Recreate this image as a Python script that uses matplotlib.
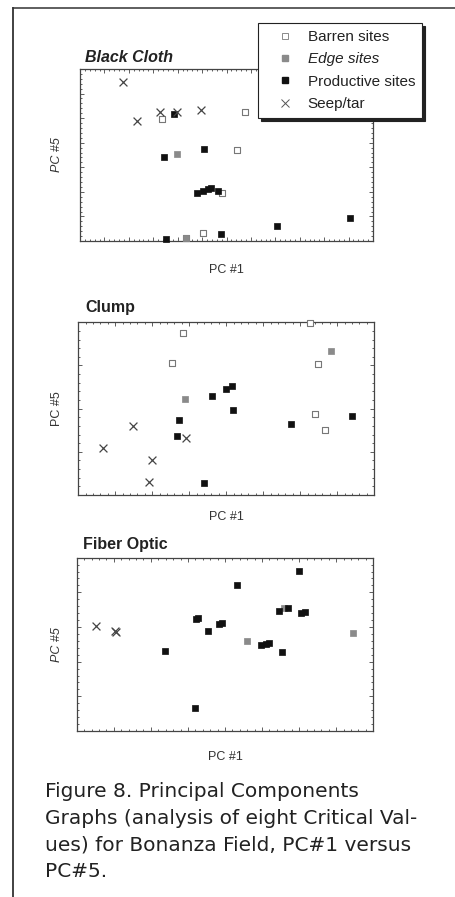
import numpy as np
import matplotlib
matplotlib.use("Agg")
import matplotlib.pyplot as plt
from matplotlib.lines import Line2D
from matplotlib.ticker import MultipleLocator

plt.rcParams['font.family'] = ['Liberation Sans', 'DejaVu Sans']

# PC#1 / PC#5 scores, one list per site class and field
# Black Cloth
bc_barren = [(-1.33, 0.48), (0.38, 0.62), (0.21, -0.15), (-0.10, -1.02), (-0.82, -1.93), (-0.49, -1.84)]
bc_edge = [(-1.01, -0.23), (-0.82, -1.93)]
bc_productive = [(-1.07, 0.58), (-1.27, -0.30), (-0.46, -0.12), (-0.61, -1.02), (-0.48, -0.98),
                 (-0.37, -0.94), (-0.32, -0.93), (-0.17, -0.98), (-1.24, -1.96), (-0.11, -1.86),
                 (1.03, -1.69), (2.53, -1.53)]
bc_seep = [(-2.11, 1.24), (-1.84, 0.45), (-1.36, 0.62), (-1.02, 0.63), (-0.53, 0.67)]

# Clump
cl_barren = [(-1.16, 1.75), (2.26, 1.98), (-1.47, 1.05), (2.47, 1.03), (2.41, -0.13), (2.67, -0.49)]
cl_edge = [(2.83, 1.34), (-1.12, 0.22)]
cl_productive = [(0.16, 0.53), (-0.02, 0.45), (-0.39, 0.29), (0.18, -0.02), (-1.27, -0.26),
                 (3.40, -0.17), (1.76, -0.35), (-1.33, -0.63), (-0.61, -1.72)]
cl_seep = [(-2.51, -0.41), (-1.09, -0.67), (-3.34, -0.90), (-2.00, -1.18), (-2.08, -1.69)]

# Fiber Optic
fo_barren = []
fo_edge = [(0.60, -0.39), (1.59, 0.56), (3.46, -0.16)]
fo_productive = [(-1.63, -0.70), (-0.78, 0.22), (-0.72, 0.25), (-0.45, -0.12), (-0.16, 0.09),
                 (-0.07, 0.12), (0.33, 1.21), (0.98, -0.53), (1.11, -0.48), (1.19, -0.47),
                 (1.46, 0.46), (1.70, 0.54), (1.53, -0.71), (1.99, 1.62), (2.06, 0.40),
                 (2.16, 0.43), (-0.80, -2.35)]
fo_seep = [(-3.49, 0.03), (-2.97, -0.11), (-2.93, -0.15)]

site_labels = ["Barren sites", "Edge sites", "Productive sites", "Seep/tar"]
caption = ("Figure 8. Principal Components\n"
           "Graphs (analysis of eight Critical Val-\n"
           "ues) for Bonanza Field, PC#1 versus\n"
           "PC#5.")

# marker styles per class
styles = [
    dict(marker='s', s=20, facecolors='white', edgecolors='#777777', linewidths=0.8),
    dict(marker='s', s=18, facecolors='#8a8a8a', edgecolors='#8a8a8a', linewidths=0.5),
    dict(marker='s', s=20, facecolors='#111111', edgecolors='#111111', linewidths=0.5),
    dict(marker='x', s=32, c='#444444', linewidths=0.9),
]

W, H = 456, 897
fig = plt.figure(figsize=(W / 100, H / 100), dpi=100)
fig.patch.set_facecolor('white')

panels = [
    dict(title="Black Cloth", title_style='italic', ylab_style='italic',
         rect=(80, 69, 293, 172), title_xy=(85, 57), xlab_y=270,
         xlim=(-3, 3), ylim=(-2, 1.5), xmaj=0.5, xmin=0.1, ymaj=0.5, ymin=0.1,
         data=[bc_barren, bc_edge, bc_productive, bc_seep]),
    dict(title="Clump", title_style='normal', ylab_style='normal',
         rect=(78.3, 322.3, 296, 172.7), title_xy=(85, 307), xlab_y=517,
         xlim=(-4, 4), ylim=(-2, 2), xmaj=1, xmin=0.2, ymaj=1, ymin=0.2,
         data=[cl_barren, cl_edge, cl_productive, cl_seep]),
    dict(title="Fiber Optic", title_style='normal', ylab_style='italic',
         rect=(76.7, 557.7, 296.6, 173.3), title_xy=(83, 545), xlab_y=757,
         xlim=(-4, 4), ylim=(-3, 2), xmaj=1, xmin=0.2, ymaj=1, ymin=0.2,
         data=[fo_barren, fo_edge, fo_productive, fo_seep]),
]

for p in panels:
    x0, y0, w, h = p['rect']
    ax = fig.add_axes([x0 / W, 1 - (y0 + h) / H, w / W, h / H])
    for pts, st in zip(p['data'], styles):
        if len(pts) == 0:
            continue
        arr = np.array(pts)
        ax.scatter(arr[:, 0], arr[:, 1], clip_on=False, zorder=3, **st)
    ax.set_xlim(*p['xlim'])
    ax.set_ylim(*p['ylim'])
    ax.xaxis.set_major_locator(MultipleLocator(p['xmaj']))
    ax.xaxis.set_minor_locator(MultipleLocator(p['xmin']))
    ax.yaxis.set_major_locator(MultipleLocator(p['ymaj']))
    ax.yaxis.set_minor_locator(MultipleLocator(p['ymin']))
    ax.tick_params(which='both', direction='in', top=True, right=True,
                   labelbottom=False, labelleft=False, color='#444444', width=0.6)
    ax.tick_params(which='major', length=3)
    ax.tick_params(which='minor', length=1.6)
    for sp in ax.spines.values():
        sp.set_color('#444444')
        sp.set_linewidth(0.9)

    tx, ty = p['title_xy']
    fig.text(tx / W, 1 - ty / H, p['title'], fontsize=11.5, fontweight='bold',
             fontstyle=p['title_style'], color='#222222', ha='left', va='center')
    fig.text((x0 + w / 2) / W, 1 - p['xlab_y'] / H, "PC #1", fontsize=9,
             color='#333333', ha='center', va='center')
    fig.text(57 / W, 1 - (y0 + h / 2) / H, "PC #5", fontsize=9, rotation=90,
             fontstyle=p['ylab_style'], color='#333333', ha='center', va='center')

# legend
handles = [
    Line2D([], [], linestyle='none', marker='s', markersize=4, markerfacecolor='white',
           markeredgecolor='#777777', markeredgewidth=0.6),
    Line2D([], [], linestyle='none', marker='s', markersize=4, markerfacecolor='#8a8a8a',
           markeredgecolor='#8a8a8a'),
    Line2D([], [], linestyle='none', marker='s', markersize=4, markerfacecolor='#111111',
           markeredgecolor='#111111'),
    Line2D([], [], linestyle='none', marker='x', markersize=5.5, color='#555555',
           markeredgewidth=0.7),
]
leg = fig.legend(handles, site_labels, loc='upper left', bbox_to_anchor=(258 / W, 1 - 23 / H),
                 fontsize=11, frameon=True, fancybox=False, shadow={'color': '#222222', 'alpha': 1},
                 labelspacing=0.55, handlelength=2.6, handletextpad=0.2, borderpad=0.45,
                 borderaxespad=0, edgecolor='#222222')
leg.get_frame().set_linewidth(0.8)
leg.get_frame().set_facecolor('white')
for t in leg.get_texts():
    t.set_color('#222222')
leg.get_texts()[1].set_fontstyle('italic')

# page frame lines
fig.add_artist(Line2D([13 / W, 1], [1 - 8 / H, 1 - 8 / H], color='#333333', linewidth=1.1))
fig.add_artist(Line2D([13 / W, 13 / W], [0, 1 - 8 / H], color='#333333', linewidth=1.3))

fig.text(45 / W, 1 - 782 / H, caption, fontsize=14.5, color='#222222', ha='left', va='top',
         linespacing=1.52, family=['DejaVu Sans'])

fig.savefig("out.png", dpi=100)
